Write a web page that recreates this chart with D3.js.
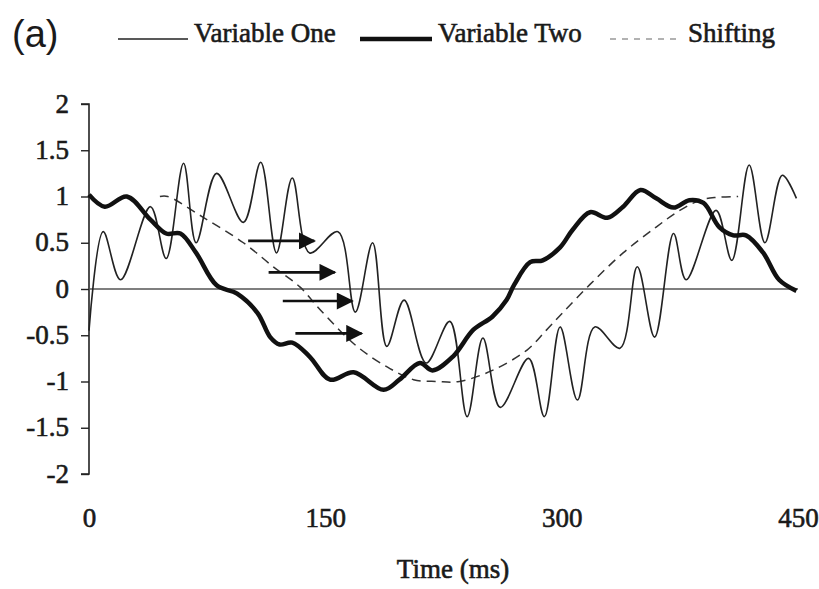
<!DOCTYPE html>
<html>
<head>
<meta charset="utf-8">
<script src="https://cdn.jsdelivr.net/npm/d3@7"></script>
<style>
  body { margin: 0; background: #fff; }
  svg text { font-family: "Liberation Serif", "DejaVu Serif", serif; fill: #1a1a1a; }
</style>
</head>
<body>
<svg id="chart" width="819" height="589"></svg>
<script>
// Values (time in ms, amplitude)
const oneTime = [0, 9, 20, 39, 49, 60, 68, 81, 98, 109, 119, 129, 140, 158, 169, 180, 189, 200, 214, 229, 240, 250, 261, 279, 289, 299, 310, 321, 337, 348, 359, 371, 379, 398, 408, 419, 429, 440, 449];
const oneValue = [-0.45, 0.62, 0.1, 0.89, 0.33, 1.36, 0.5, 1.25, 0.72, 1.37, 0.39, 1.2, 0.39, 0.62, -0.25, 0.5, -0.62, -0.12, -0.8, -0.35, -1.38, -0.53, -1.28, -0.75, -1.38, -0.41, -1.2, -0.41, -0.64, 0.24, -0.52, 0.6, 0.1, 0.85, 0.31, 1.34, 0.5, 1.23, 0.98];

const twoTime = [0, 10, 24, 39, 49, 58, 68, 81, 94, 107, 115, 121, 129, 140, 153, 168, 187, 197, 210, 218, 231, 244, 256, 265, 270, 280, 288, 299, 307, 318, 329, 339, 350, 360, 371, 381, 390, 400, 409, 417, 428, 438, 449];
const twoValue = [1.02, 0.89, 1.0, 0.75, 0.6, 0.6, 0.39, 0.04, -0.05, -0.26, -0.52, -0.6, -0.58, -0.73, -0.98, -0.9, -1.09, -0.98, -0.8, -0.88, -0.73, -0.44, -0.3, -0.12, 0.05, 0.29, 0.31, 0.45, 0.64, 0.83, 0.77, 0.89, 1.07, 0.98, 0.88, 0.96, 0.93, 0.67, 0.58, 0.58, 0.39, 0.1, -0.02];

const shiftTime = [45, 50, 72, 98, 117, 134, 147, 170, 191, 206, 221, 235, 256, 278, 290, 301, 318, 339, 360, 375, 388, 398, 412];
const shiftValue = [1.0, 1.0, 0.78, 0.5, 0.24, 0.02, -0.23, -0.62, -0.86, -0.98, -1.0, -1.0, -0.88, -0.66, -0.45, -0.25, 0.05, 0.39, 0.67, 0.85, 0.96, 0.99, 1.0];

// arrows: start time, end time, level
const arrowStart = [101, 114, 123, 131];
const arrowEnd = [143, 156, 167, 173];
const arrowLevel = [0.52, 0.18, -0.13, -0.48];

const yTicks = [-2, -1.5, -1, -0.5, 0, 0.5, 1, 1.5, 2];
const xTicks = [0, 150, 300, 450];

const svg = d3.select("#chart");
svg.append("rect").attr("width", 819).attr("height", 589).attr("fill", "#fff");

const x = d3.scaleLinear().domain([0, 450]).range([89, 798]);
const y = d3.scaleLinear().domain([-2, 2]).range([474, 104]);

const zip = (ts, vs) => ts.map((t, i) => [t, vs[i]]);

// heavier-than-regular serif, like the scanned original
const inked = sel => sel
  .attr("font-size", 27).attr("font-weight", "normal")
  .attr("fill", "#1a1a1a").attr("stroke", "#1a1a1a").attr("stroke-width", 0.6);

// arrowhead marker
svg.append("defs").append("marker")
  .attr("id", "head")
  .attr("viewBox", "0 0 10 10")
  .attr("refX", 9).attr("refY", 5)
  .attr("markerUnits", "userSpaceOnUse")
  .attr("markerWidth", 19).attr("markerHeight", 17)
  .attr("orient", "auto")
  .append("path")
  .attr("d", "M0,0 L10,5 L0,10 Z")
  .attr("fill", "#111");

// y axis
const yAxis = svg.append("g")
  .attr("transform", `translate(${x(0)},0)`)
  .call(d3.axisLeft(y).tickValues(yTicks).tickSize(8).tickPadding(12).tickFormat(d => String(d)));
yAxis.select(".domain").attr("stroke", "#222").attr("stroke-width", 1.6)
  .attr("d", `M-8,${y(2)}H0V${y(-2)}H-8`);
yAxis.selectAll(".tick line").attr("stroke", "#222").attr("stroke-width", 1.4);
yAxis.selectAll(".tick text").call(inked).attr("dy", "0.3em");

// x axis labels only
const xAxis = svg.append("g")
  .attr("transform", "translate(0,508)")
  .call(d3.axisBottom(x).tickValues(xTicks).tickSize(0).tickPadding(0));
xAxis.select(".domain").remove();
xAxis.selectAll(".tick text").call(inked);

// zero line
svg.append("line")
  .attr("x1", x(0)).attr("x2", x(450))
  .attr("y1", y(0)).attr("y2", y(0))
  .attr("stroke", "#555").attr("stroke-width", 1.6);

const line = d3.line().x(d => x(d[0])).y(d => y(d[1])).curve(d3.curveCatmullRom.alpha(0.5));

svg.append("path").datum(zip(shiftTime, shiftValue))
  .attr("d", line).attr("fill", "none")
  .attr("stroke", "#333").attr("stroke-width", 1.5).attr("stroke-dasharray", "9,6");

svg.append("path").datum(zip(oneTime, oneValue))
  .attr("d", line).attr("fill", "none")
  .attr("stroke", "#222").attr("stroke-width", 1.6);

svg.append("path").datum(zip(twoTime, twoValue))
  .attr("d", line).attr("fill", "none")
  .attr("stroke", "#111").attr("stroke-width", 4.5).attr("stroke-linejoin", "round");

// shift arrows
svg.append("g").selectAll("line")
  .data(arrowStart.map((s, i) => ({ s, e: arrowEnd[i], v: arrowLevel[i] })))
  .join("line")
  .attr("x1", d => x(d.s)).attr("x2", d => x(d.e))
  .attr("y1", d => y(d.v)).attr("y2", d => y(d.v))
  .attr("stroke", "#111").attr("stroke-width", 2.6)
  .attr("marker-end", "url(#head)");

// axis title
svg.append("text")
  .attr("x", 453).attr("y", 578)
  .attr("text-anchor", "middle")
  .call(inked)
  .text("Time (ms)");

// panel label
svg.append("text")
  .attr("x", 12).attr("y", 47)
  .style("font-family", "'Liberation Sans', Arial, sans-serif")
  .attr("font-size", 38)
  .text("(a)");

// legend
const legendNames = ["Variable One", "Variable Two", "Shifting"];
const legendLineX = [118, 360, 610];
const legendTextX = [194, 438, 688];
const legendLineW = [70, 72, 66];
const legendStroke = [1.6, 4.5, 1.4];
const legendDash = [null, null, "6,6"];
const legendColor = ["#222", "#111", "#999"];

const legend = svg.append("g");
legendNames.forEach((name, i) => {
  legend.append("line")
    .attr("x1", legendLineX[i]).attr("x2", legendLineX[i] + legendLineW[i])
    .attr("y1", 39).attr("y2", 39)
    .attr("stroke", legendColor[i]).attr("stroke-width", legendStroke[i])
    .attr("stroke-dasharray", legendDash[i]);
  legend.append("text")
    .attr("x", legendTextX[i]).attr("y", 42)
    .call(inked)
    .text(name);
});
</script>
</body>
</html>
